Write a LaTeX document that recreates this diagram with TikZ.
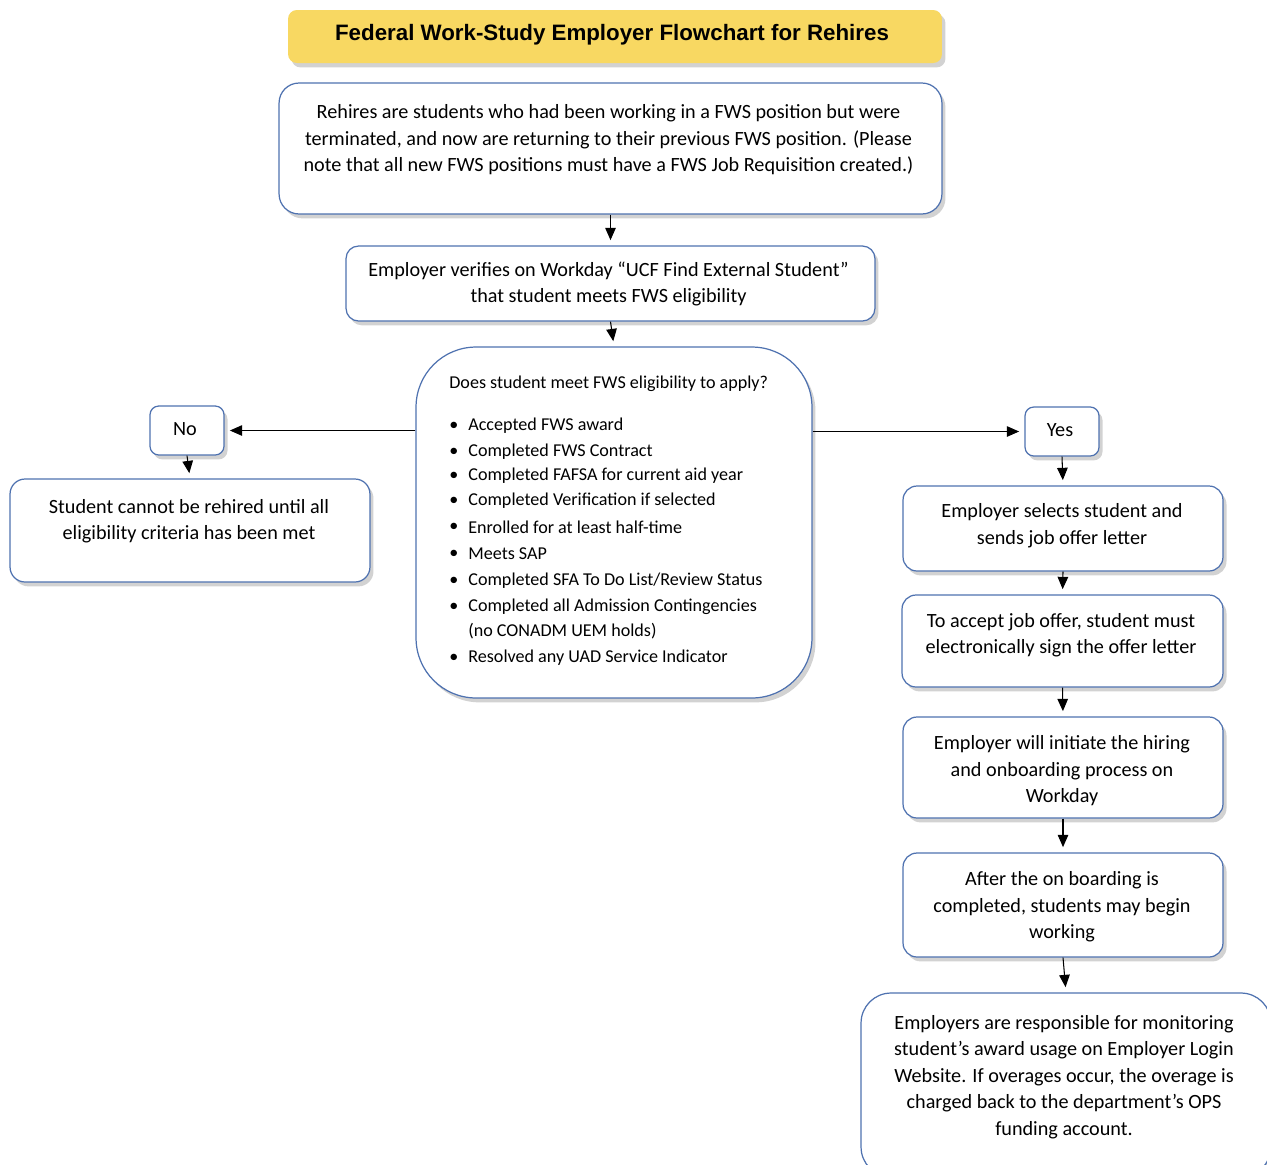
\documentclass[tikz,border=0pt]{standalone}
\usepackage{fontspec}
\setmainfont{Carlito}
\newfontfamily\headfont{Liberation Sans}
\usetikzlibrary{arrows.meta,shadows}
\definecolor{boxblue}{HTML}{4F72B0}
\definecolor{headgold}{HTML}{F8D862}

\begin{document}
\begin{tikzpicture}[x=0.02cm,y=-0.02cm,
  box/.style={draw=boxblue,line width=0.7pt,fill=white,
    drop shadow={shadow xshift=2pt,shadow yshift=-2.5pt,opacity=0.35}},
  txt/.style={align=center,font=\fontsize{11.5}{15.1}\selectfont,inner sep=0pt},
  crit/.style={anchor=west,font=\fontsize{10.3}{12}\selectfont,inner sep=0pt},
  flow/.style={-{Triangle[length=7pt,width=6pt]},line width=0.6pt,shorten >=3pt}]
\useasboundingbox (0,0) rectangle (1267,1164);
\clip (0,0) rectangle (1267,1164);
\fill[white] (0,0) rectangle (1267,1164);

% title
\node[box,fill=headgold,draw=none,rounded corners=5pt,minimum width=13.08cm,minimum height=1.06cm] (head) at (615,36.5) {};
\node[inner sep=0pt,font=\headfont\bfseries\fontsize{12.7}{15}\selectfont] (headtext) at (612,35) {Federal Work-Study Employer Flowchart for Rehires};

% main column
\node[box,rounded corners=0.4cm,minimum width=13.26cm,minimum height=2.62cm] (intro) at (610.5,148.5) {};
\node[txt] (introtext) at (608.5,140) {Rehires are students who had been working in a FWS position but were\\
terminated, and now are returning to their previous FWS position. (Please\\
note that all new FWS positions must have a FWS Job Requisition created.)};

\node[box,rounded corners=0.25cm,minimum width=10.58cm,minimum height=1.5cm] (verify) at (610.5,283.5) {};
\node[txt] (verifytext) at (608.5,284) {Employer verifies on Workday ``UCF Find External Student''\\
that student meets FWS eligibility};

\node[box,rounded corners=1.2cm,minimum width=7.92cm,minimum height=7.02cm] (decide) at (614,522.5) {};
\node[crit] (question) at (449,384) {Does student meet FWS eligibility to apply?};
\foreach \yy/\crittext [count=\i] in {426/{Accepted FWS award},452/{Completed FWS Contract},
    476/{Completed FAFSA for current aid year},501/{Completed Verification if selected},
    527/{Enrolled for at least half-time},554/{Meets SAP},
    581/{Completed SFA To Do List/Review Status},607/{Completed all Admission Contingencies},
    658/{Resolved any UAD Service Indicator}} {
  \node[crit] (dot\i) at (449,\yy) {\textbullet};
  \node[crit] (item\i) at (468,\yy) {\crittext};
}
\node[crit] (itemcont) at (468,631) {(no CONADM UEM holds)};

% no branch
\node[box,rounded corners=5pt,minimum width=1.48cm,minimum height=0.98cm] (no) at (187,430.5) {};
\node[txt] (notext) at (185,429) {No};
\node[box,rounded corners=0.3cm,minimum width=7.2cm,minimum height=2.06cm] (fail) at (190,530.5) {};
\node[txt] (failtext) at (189,521) {Student cannot be rehired until all\\
eligibility criteria has been met};

% yes branch
\node[box,rounded corners=5pt,minimum width=1.48cm,minimum height=0.98cm] (yes) at (1062,431.5) {};
\node[txt] (yestext) at (1060,430) {Yes};
\node[box,rounded corners=0.28cm,minimum width=6.4cm,minimum height=1.7cm] (select) at (1063,528.5) {};
\node[txt] (selecttext) at (1062,525.5) {Employer selects student and\\
sends job offer letter};
\node[box,rounded corners=0.28cm,minimum width=6.42cm,minimum height=1.84cm] (accept) at (1062.5,641) {};
\node[txt] (accepttext) at (1061,635) {To accept job offer, student must\\
electronically sign the offer letter};
\node[box,rounded corners=0.28cm,minimum width=6.4cm,minimum height=2.02cm] (hire) at (1063,767.5) {};
\node[txt] (hiretext) at (1062,771) {Employer will initiate the hiring\\
and onboarding process on\\
Workday};
\node[box,rounded corners=0.28cm,minimum width=6.4cm,minimum height=2.08cm] (onboard) at (1063,905) {};
\node[txt] (onboardtext) at (1062,907) {After the on boarding is\\
completed, students may begin\\
working};
\node[box,rounded corners=0.6cm,minimum width=8.2cm,minimum height=3.68cm] (monitor) at (1066,1085) {};
\node[txt] (monitortext) at (1064,1077) {Employers are responsible for monitoring\\
student’s award usage on Employer Login\\
Website. If overages occur, the overage is\\
charged back to the department’s OPS\\
funding account.};

% connectors
\draw[flow] (intro.south) -- (verify.north);
\draw[flow] (verify.south) -- (decide.north);
\draw[flow] (no.east -| decide.west) -- (no.east);
\draw[flow] (no.south) -- (fail.north);
\draw[flow] (yes.west -| decide.east) -- (yes.west);
\draw[flow] (yes.south) -- (select.north);
\draw[flow] (select.south) -- (accept.north);
\draw[flow] (accept.south) -- (hire.north);
\draw[flow] (hire.south) -- (onboard.north);
\draw[flow] (onboard.south) -- (monitor.north);
\end{tikzpicture}
\end{document}
